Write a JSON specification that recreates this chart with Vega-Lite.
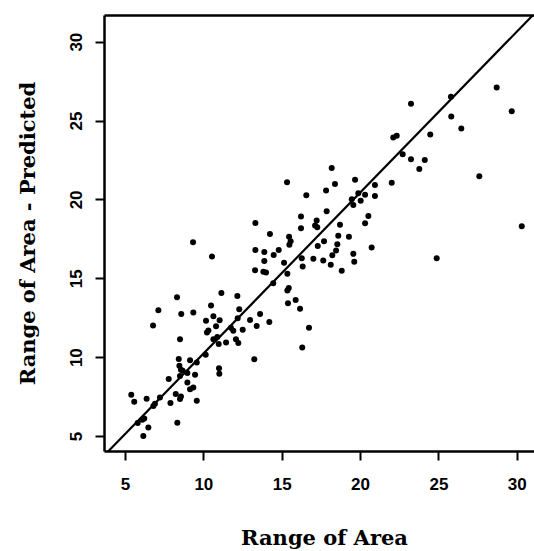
{
  "$schema": "https://vega.github.io/schema/vega-lite/v6.json",
  "autosize": {"type": "none"},
  "width": 430,
  "height": 436,
  "padding": {"left": 104, "top": 15, "right": 0, "bottom": 100},
  "background": "white",
  "config": {
    "view": {"stroke": null},
    "axis": {
      "domainColor": "black",
      "domainWidth": 2.5,
      "tickColor": "black",
      "tickWidth": 2,
      "tickSize": 9,
      "grid": false,
      "labelColor": "black",
      "labelFont": "Liberation Sans",
      "labelFontWeight": "bold",
      "labelFontSize": 17,
      "titleColor": "black",
      "titleFont": "DejaVu Serif",
      "titleFontWeight": "bold",
      "titleFontSize": 21
    }
  },
  "datasets": {
    "obs": [
      {"actual": 28.72, "predicted": 27.09}, {"actual": 29.68, "predicted": 25.59},
      {"actual": 23.25, "predicted": 26.07}, {"actual": 25.80, "predicted": 26.51},
      {"actual": 25.82, "predicted": 25.25}, {"actual": 26.46, "predicted": 24.49},
      {"actual": 22.12, "predicted": 23.92}, {"actual": 22.34, "predicted": 24.04},
      {"actual": 24.48, "predicted": 24.11}, {"actual": 22.72, "predicted": 22.86},
      {"actual": 23.25, "predicted": 22.55}, {"actual": 24.13, "predicted": 22.50},
      {"actual": 23.78, "predicted": 21.93}, {"actual": 18.19, "predicted": 21.99},
      {"actual": 27.61, "predicted": 21.47}, {"actual": 30.32, "predicted": 18.30},
      {"actual": 24.89, "predicted": 16.27}, {"actual": 16.57, "predicted": 20.27},
      {"actual": 18.40, "predicted": 20.98}, {"actual": 19.68, "predicted": 21.24},
      {"actual": 17.83, "predicted": 20.56}, {"actual": 22.02, "predicted": 21.05},
      {"actual": 20.95, "predicted": 20.92}, {"actual": 19.89, "predicted": 20.39},
      {"actual": 20.32, "predicted": 20.29}, {"actual": 19.47, "predicted": 20.01},
      {"actual": 19.57, "predicted": 19.65}, {"actual": 20.04, "predicted": 19.92},
      {"actual": 20.95, "predicted": 20.22}, {"actual": 17.87, "predicted": 19.25},
      {"actual": 20.53, "predicted": 18.95}, {"actual": 20.32, "predicted": 18.49},
      {"actual": 18.72, "predicted": 18.40}, {"actual": 16.23, "predicted": 18.91},
      {"actual": 16.23, "predicted": 18.17}, {"actual": 17.23, "predicted": 18.66},
      {"actual": 17.13, "predicted": 18.34}, {"actual": 17.27, "predicted": 18.24},
      {"actual": 18.61, "predicted": 17.69}, {"actual": 19.29, "predicted": 17.64},
      {"actual": 17.70, "predicted": 17.35}, {"actual": 17.30, "predicted": 17.05},
      {"actual": 18.55, "predicted": 17.16}, {"actual": 18.47, "predicted": 16.76},
      {"actual": 18.23, "predicted": 16.46}, {"actual": 20.74, "predicted": 16.95},
      {"actual": 17.02, "predicted": 16.23}, {"actual": 17.65, "predicted": 16.12},
      {"actual": 18.13, "predicted": 15.85}, {"actual": 19.57, "predicted": 16.55},
      {"actual": 19.63, "predicted": 16.04}, {"actual": 18.83, "predicted": 15.47},
      {"actual": 16.28, "predicted": 16.27}, {"actual": 16.34, "predicted": 15.74},
      {"actual": 16.17, "predicted": 13.06}, {"actual": 15.34, "predicted": 21.09},
      {"actual": 13.32, "predicted": 18.51}, {"actual": 14.25, "predicted": 17.81},
      {"actual": 15.47, "predicted": 17.64}, {"actual": 15.57, "predicted": 17.35},
      {"actual": 15.49, "predicted": 17.12}, {"actual": 9.34, "predicted": 17.29},
      {"actual": 13.32, "predicted": 16.80}, {"actual": 13.89, "predicted": 16.67},
      {"actual": 14.81, "predicted": 16.80}, {"actual": 14.49, "predicted": 16.48},
      {"actual": 13.89, "predicted": 16.10}, {"actual": 15.15, "predicted": 15.98},
      {"actual": 10.55, "predicted": 16.38}, {"actual": 13.30, "predicted": 15.51},
      {"actual": 13.83, "predicted": 15.42}, {"actual": 14.00, "predicted": 15.36},
      {"actual": 15.36, "predicted": 15.28}, {"actual": 14.46, "predicted": 14.69},
      {"actual": 15.45, "predicted": 14.39}, {"actual": 15.36, "predicted": 14.22},
      {"actual": 15.89, "predicted": 13.63}, {"actual": 15.40, "predicted": 13.42},
      {"actual": 8.32, "predicted": 13.80}, {"actual": 11.15, "predicted": 14.06},
      {"actual": 12.17, "predicted": 13.88}, {"actual": 10.49, "predicted": 13.27},
      {"actual": 12.29, "predicted": 13.04}, {"actual": 7.13, "predicted": 12.97},
      {"actual": 8.59, "predicted": 12.74}, {"actual": 9.36, "predicted": 12.83},
      {"actual": 6.79, "predicted": 12.00}, {"actual": 10.17, "predicted": 12.30},
      {"actual": 10.64, "predicted": 12.60}, {"actual": 11.04, "predicted": 12.34},
      {"actual": 10.81, "predicted": 11.96}, {"actual": 10.23, "predicted": 11.56},
      {"actual": 10.32, "predicted": 11.69}, {"actual": 12.19, "predicted": 12.47},
      {"actual": 12.98, "predicted": 12.36}, {"actual": 13.62, "predicted": 12.74},
      {"actual": 13.40, "predicted": 11.98}, {"actual": 14.21, "predicted": 12.22},
      {"actual": 16.74, "predicted": 11.86}, {"actual": 16.31, "predicted": 10.61},
      {"actual": 8.51, "predicted": 11.14}, {"actual": 10.64, "predicted": 11.14},
      {"actual": 10.89, "predicted": 11.27}, {"actual": 10.98, "predicted": 10.84},
      {"actual": 11.45, "predicted": 10.93}, {"actual": 11.76, "predicted": 11.86},
      {"actual": 11.91, "predicted": 11.67}, {"actual": 12.51, "predicted": 11.73},
      {"actual": 12.08, "predicted": 11.14}, {"actual": 12.23, "predicted": 10.89},
      {"actual": 10.15, "predicted": 10.15}, {"actual": 13.25, "predicted": 9.87},
      {"actual": 8.43, "predicted": 9.89}, {"actual": 9.15, "predicted": 9.81},
      {"actual": 8.47, "predicted": 9.45}, {"actual": 8.57, "predicted": 9.20},
      {"actual": 8.68, "predicted": 9.13}, {"actual": 9.58, "predicted": 9.66},
      {"actual": 11.00, "predicted": 9.30}, {"actual": 11.02, "predicted": 8.94},
      {"actual": 8.98, "predicted": 8.99}, {"actual": 9.47, "predicted": 8.88},
      {"actual": 8.51, "predicted": 8.81}, {"actual": 7.79, "predicted": 8.62},
      {"actual": 8.98, "predicted": 8.39}, {"actual": 9.15, "predicted": 7.97},
      {"actual": 9.36, "predicted": 8.07}, {"actual": 8.24, "predicted": 7.66},
      {"actual": 8.57, "predicted": 7.50}, {"actual": 8.51, "predicted": 7.34},
      {"actual": 9.58, "predicted": 7.23}, {"actual": 7.90, "predicted": 7.09},
      {"actual": 5.40, "predicted": 7.61}, {"actual": 5.59, "predicted": 7.17},
      {"actual": 6.38, "predicted": 7.36}, {"actual": 7.23, "predicted": 7.44},
      {"actual": 6.91, "predicted": 7.04}, {"actual": 6.81, "predicted": 6.91},
      {"actual": 8.34, "predicted": 5.84}, {"actual": 5.81, "predicted": 5.82},
      {"actual": 6.23, "predicted": 6.11}, {"actual": 6.10, "predicted": 6.03},
      {"actual": 6.49, "predicted": 5.54}, {"actual": 6.17, "predicted": 5.00}
    ],
    "fit": [
      {"actual": 3.92, "predicted": 4.02},
      {"actual": 31.04, "predicted": 31.69}
    ]
  },
  "layer": [
    {
      "data": {"name": "fit"},
      "mark": {"type": "line", "color": "black", "strokeWidth": 2.2, "clip": true},
      "encoding": {
        "x": {
          "field": "actual", "type": "quantitative",
          "scale": {"domain": [3.66, 31.1], "nice": false, "zero": false},
          "axis": {"orient": "top", "title": null, "labels": false, "ticks": false, "domain": true}
        },
        "y": {
          "field": "predicted", "type": "quantitative",
          "scale": {"domain": [4.05, 31.69], "nice": false, "zero": false}
        }
      }
    },
    {
      "data": {"name": "obs"},
      "mark": {"type": "circle", "color": "black", "opacity": 1, "size": 36},
      "encoding": {
        "x": {
          "field": "actual", "type": "quantitative",
          "axis": {
            "orient": "bottom",
            "title": "Range of Area",
            "values": [5, 10, 15, 20, 25, 30],
            "labelPadding": 16,
            "titlePadding": 35,
            "titleX": 220
          }
        },
        "y": {
          "field": "predicted", "type": "quantitative",
          "axis": {
            "orient": "left",
            "title": "Range of Area - Predicted",
            "values": [5, 10, 15, 20, 25, 30],
            "labelAngle": -90,
            "labelAlign": "center",
            "labelBaseline": "bottom",
            "labelPadding": 10,
            "titlePadding": 29
          }
        }
      }
    }
  ]
}
